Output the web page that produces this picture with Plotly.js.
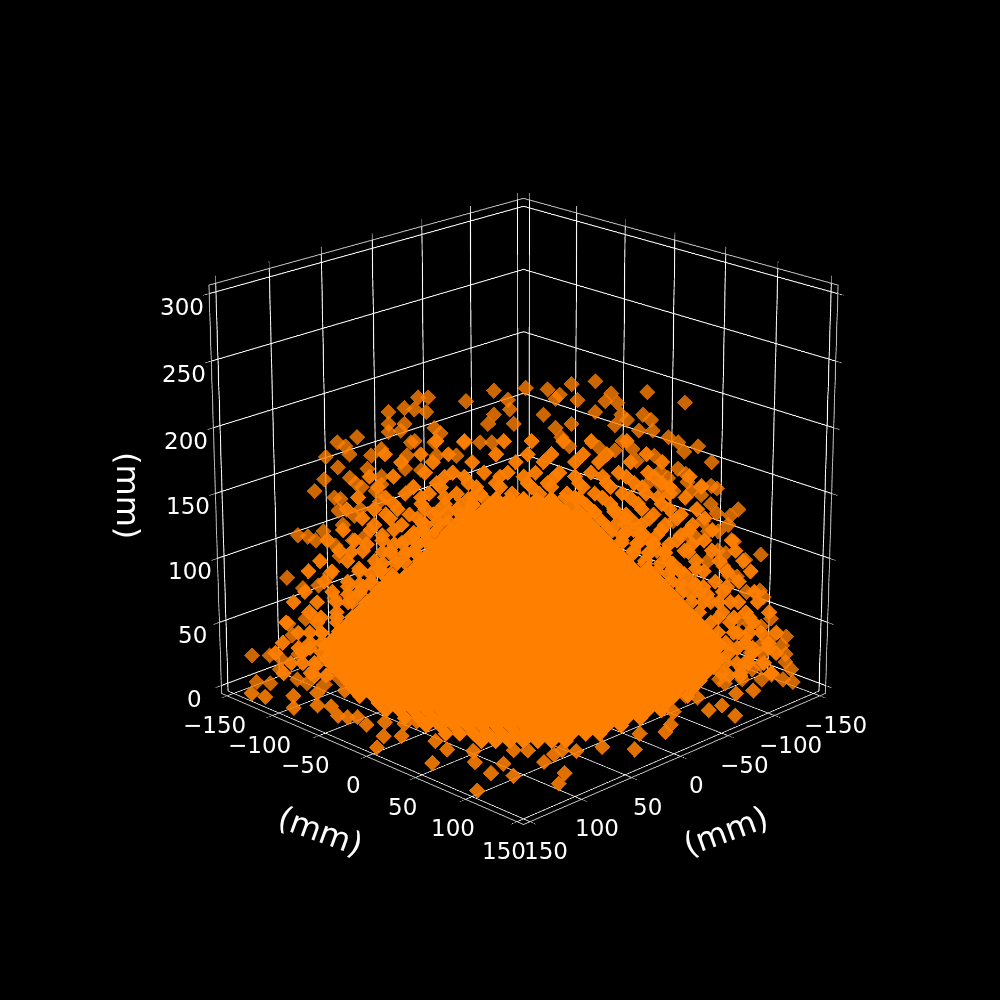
<!DOCTYPE html>
<html><head><meta charset="utf-8"><script src="https://cdn.plot.ly/plotly-3.0.1.min.js"></script>
<style>html,body{margin:0;background:#000;overflow:hidden;width:1000px;height:1000px}
#c{position:absolute;left:-1011.5px;top:-1041.5px;width:3069px;height:3069px}</style></head><body><div id="c"></div>
<script>
const outerY=[-15,-29,-48,-53,-49,-60,-55,-68,-68,-60,-68,-62,-84,-94,-90,-88,-100,-77,-72,-94,-79,-101,-106,-88,-85,-82,-72,-72,-75,-96,-93,-73,-94,-83,-86,-92,-115,-110,-106,-102,-96,-87,-81,-121,-113,-105,-99,-94,-97,-57,-55,-59,-45,-44,-45,-42,-60,-52,-30,-22,-18,-15,-8,-7,-5,-34,-16,
1,12,24,36,18,16,27,44,62,81,47,41,49,36,24,16,10,52,60,64,46,58,65,73,78,88,81,95,66,57,50,55,46,38,23,19,69,78,82,83,85,90,95,98,90,95,98,109,105,104,91,99,107,94,88,113,121,103,99,102,109,105,94,121,123,114,76,73,76,83,70,63,
-121,-119,-140,-131,-138,-131,-112,-108,-116,-125,-117,-112,-126,-103,-95,
127,135,133,135,135,138,139,134,128,123,126,122,117,123,122,118,113,104,101,116,122,111,114];
const outerX=[15,29,48,53,49,60,55,68,68,60,68,62,84,94,90,88,100,77,72,94,79,101,106,88,85,82,72,72,75,96,93,73,94,83,86,92,115,110,106,102,96,87,81,121,113,105,99,94,97,57,55,59,45,44,45,42,60,52,30,22,18,15,8,7,5,34,16,
-1,-12,-24,-36,-18,-16,-27,-44,-62,-81,-47,-41,-49,-36,-24,-16,-10,-52,-60,-64,-46,-58,-65,-73,-78,-88,-81,-95,-66,-57,-50,-55,-46,-38,-23,-19,-69,-78,-82,-83,-85,-90,-95,-98,-90,-95,-98,-109,-105,-104,-91,-99,-107,-94,-88,-113,-121,-103,-99,-102,-109,-105,-94,-121,-123,-114,-76,-73,-76,-83,-70,-63,
121,119,140,131,138,131,112,108,116,125,117,112,126,103,95,
-127,-135,-133,-135,-135,-138,-139,-134,-128,-123,-126,-122,-117,-123,-122,-118,-113,-104,-101,-116,-122,-111,-114];
const outerZ=[228,220,223,223,212,215,214,212,203,203,197,198,193,189,186,180,178,179,184,170,169,161,152,162,158,155,163,157,152,147,146,144,137,138,133,126,118,117,114,121,110,114,117,85,77,79,88,102,69,189,190,179,189,179,200,196,169,168,189,189,203,210,221,214,203,179,189,
230,229,233,235,225,222,221,226,227,219,219,220,210,212,203,200,210,206,210,206,202,198,198,193,189,186,182,174,179,175,190,184,183,185,186,193,167,169,165,159,152,156,156,154,149,142,135,138,133,126,129,121,113,121,116,99,103,104,106,94,86,87,98,75,70,74,152,162,129,119,156,158,
49,40,24,24,3,2,53,55,25,21,5,2,13,1,5,
53,39,32,25,19,13,3,5,9,5,36,32,26,26,17,13,5,2,5,49,47,53,38];
const frontX=[150,150,136,150,120,135,129,137,134,129,133,121,113,138,129,150,145,123,150,128,120,111,111,90,122,118,104,103,-107,-94,-71,-58,-64,-69,-38,-49,-20,-8,-65,7,29,42,60,66,75,89,83,92,107];
const frontY=[-130,-115,-100,-84,-92,-75,-67,-51,-44,-39,-25,-19,-7,-2,7,4,55,75,105,96,110,61,91,80,46,30,-4,-81,129,124,131,130,150,109,114,97,128,134,101,123,139,120,112,104,105,109,87,132,141];
const frontZ=[0,2,3,3,3,3,3,3,3,3,3,3,3,3,3,0,3,3,0,3,3,3,3,3,3,3,3,3,3,3,3,3,3,3,3,3,3,3,3,3,3,3,3,3,3,3,3,3,3];
const midY=[-50,-36,-20,-8,6,18,34,48,63,-44,-28,-14,2,12,28,42,56,70,-60,-48,-34,-22,-6,8,22,36,50,62,74,-66,-52,-40,-26,-12,0,14,30,44,58,70,-70,-58,-46,-32,32,52,66,80,-76,-62,-50,-40,40,52,60,72,86,-72,-56,-46,50,60,68,80,-80,-66,-54,58,66,74,86,-88,-72,-60,64,72,84,-84,-74,76,88,-90,-82,82,92,104,-96,-88,92,100,110,-104,-96,100,108,116,-110,-104,108,116,-116,-110,110,118,126,-114,-108,110,116,-108,-102,106,112,
-44,-30,-10,4,20,34,52,-70,-52,-38,-14,2,14,30,42,62,-62,-46,-26,-4,10,26,38,54,70,-78,-66,-40,-30,-12,0,16,26,40,52,66,84,-74,-56,-42,-24,-12,4,14,30,44,60,74,90,-84,-70,-52,-40,-26,26,40,54,68,82,-90,-76,-64,-50,-34,34,46,60,74,88,-82,-68,-54,-42,38,52,64,78,92,-92,-78,-66,-52,-44,44,56,70,84,96,-100,-86,-72,-60,-50,50,64,78,92,106,-94,-82,-68,-56,56,68,82,96,108,-104,-90,-76,-64,62,74,88,100,112,-110,-98,-84,-72,68,80,92,104,116,-102,-90,-78,76,86,98,110,-112,-98,-84,80,90,102,118,-118,-106,-90,86,96,106,120,-110,-96,90,102,114,126,-122,-106,-96,96,106,118,-116,-104,100,110,122,130,-124,-110,-104,104,114,126,-128,-114,-104,106,118,130,-120,-106,104,114,124,-124,-110,-100,102,112,128,
-28,-20,20,28,-32,-26,24,32,-44,-38,36,46,-52,-44,-38,40,48,56,-56,-50,-44,44,52,60,-62,-54,-49,50,58,66,-68,-60,-55,56,64,72,-72,-65,-60,62,70,76,-78,-72,-68,66,74,82,-84,-78,74,80,88,-90,-84,80,86,94];
const midX=[50,36,20,8,-6,-18,-34,-48,-63,44,28,14,-2,-12,-28,-42,-56,-70,60,48,34,22,6,-8,-22,-36,-50,-62,-74,66,52,40,26,12,0,-14,-30,-44,-58,-70,70,58,46,32,-32,-52,-66,-80,76,62,50,40,-40,-52,-60,-72,-86,72,56,46,-50,-60,-68,-80,80,66,54,-58,-66,-74,-86,88,72,60,-64,-72,-84,84,74,-76,-88,90,82,-82,-92,-104,96,88,-92,-100,-110,104,96,-100,-108,-116,110,104,-108,-116,116,110,-110,-118,-126,114,108,-110,-116,108,102,-106,-112,
44,30,10,-4,-20,-34,-52,70,52,38,14,-2,-14,-30,-42,-62,62,46,26,4,-10,-26,-38,-54,-70,78,66,40,30,12,0,-16,-26,-40,-52,-66,-84,74,56,42,24,12,-4,-14,-30,-44,-60,-74,-90,84,70,52,40,26,-26,-40,-54,-68,-82,90,76,64,50,34,-34,-46,-60,-74,-88,82,68,54,42,-38,-52,-64,-78,-92,92,78,66,52,44,-44,-56,-70,-84,-96,100,86,72,60,50,-50,-64,-78,-92,-106,94,82,68,56,-56,-68,-82,-96,-108,104,90,76,64,-62,-74,-88,-100,-112,110,98,84,72,-68,-80,-92,-104,-116,102,90,78,-76,-86,-98,-110,112,98,84,-80,-90,-102,-118,118,106,90,-86,-96,-106,-120,110,96,-90,-102,-114,-126,122,106,96,-96,-106,-118,116,104,-100,-110,-122,-130,124,110,104,-104,-114,-126,128,114,104,-106,-118,-130,120,106,-104,-114,-124,124,110,100,-102,-112,-128,
28,20,-20,-28,32,26,-24,-32,44,38,-36,-46,52,44,38,-40,-48,-56,56,50,44,-44,-52,-60,62,54,49,-50,-58,-66,68,60,55,-56,-64,-72,72,65,60,-62,-70,-76,78,72,68,-66,-74,-82,84,78,-74,-80,-88,90,84,-80,-86,-94];
const midRowZ=[166,158,150,142,134,126,118,111,105,92,78,66,54,42,30,18,8,190,180,174,163,155,147,138,131,122,114,106,98,90,82,74,66,58,50,42,34,26,18,10,146,141,136,128,120,112,104,96,88,80,72];
const midRowN=[9,9,11,11,8,9,7,7,6,4,5,5,5,4,5,4,4,7,9,9,12,12,10,10,9,10,10,9,9,9,7,7,7,6,6,6,6,6,5,6,4,4,4,6,6,6,6,6,6,5,5];
const midZ=midRowZ.flatMap((v,i)=>Array(midRowN[i]).fill(v));
const coreY=[-14,-7,0,7,14,
-18,-11,-4,3,10,17,
-28,-21,-14,-7,0,7,14,21,28,
-32,-25,-18,-11,-4,3,10,17,24,31,
-35,-28,-21,-14,-7,0,7,14,21,28,35,
-39,-32,-25,-18,-11,-4,3,10,17,24,31,38,
-42,-35,-28,-21,-14,-7,0,7,14,21,28,35,42,
-46,-39,-32,-25,-18,-11,-4,3,10,17,24,31,38,45,
-49,-42,-35,-28,-21,-14,-7,0,7,14,21,28,35,42,49,
-53,-46,-39,-32,-25,-18,-11,-4,3,10,17,24,31,38,45,52,
-56,-49,-42,-35,-28,-21,-14,-7,0,7,14,21,28,35,42,49,56,63,
-67,-60,-53,-46,-39,-32,-25,-18,-11,-4,3,10,17,24,31,38,45,52,59,66,
-70,-63,-56,-49,-42,-35,-28,-21,-14,-7,0,7,14,21,28,35,42,49,56,63,70,
-74,-67,-60,-53,-46,-39,-32,-25,-18,-11,-4,3,10,17,24,31,38,45,52,59,66,73,
-77,-70,-63,-56,-49,-42,-35,-28,-21,-14,-7,0,7,14,21,28,35,42,49,56,63,70,77,
-81,-74,-67,-60,-53,-46,-39,-32,-25,-18,-11,-4,3,10,17,24,31,38,45,52,59,66,73,80,
-84,-77,-70,-63,-56,-49,-42,-35,-28,-21,-14,-7,0,7,14,21,28,35,42,49,56,63,70,77,84,
-88,-81,-74,-67,-60,-53,-46,-39,-32,-25,-18,-11,-4,3,10,17,24,31,38,45,52,59,66,73,80,87,
-91,-84,-77,-70,-63,-56,-49,-42,-35,-28,-21,-14,-7,0,7,14,21,28,35,42,49,56,63,70,77,84,91,
-95,-88,-81,-74,-67,-60,-53,-46,-39,-32,-25,-18,-11,-4,3,10,17,24,31,38,45,52,59,66,73,80,87,94,
-98,-91,-84,-77,-70,-63,-56,-49,-42,-35,-28,-21,-14,-7,0,7,14,21,28,35,42,49,56,63,70,77,84,91,98,
-102,-95,-88,-81,-74,-67,-60,-53,-46,-39,-32,-25,-18,-11,-4,3,10,17,24,31,38,45,52,59,66,73,80,87,94,101,
-98,-91,-84,-77,-70,-63,-56,-49,-42,-35,-28,-21,-14,-7,0,7,14,21,28,35,42,49,56,63,70,77,84,91,98,
-102,-95,-88,-81,-74,-67,-60,-53,-46,-39,-32,-25,-18,-11,-4,3,10,17,24,31,38,45,52,59,66,73,80,87,94,101,
-98,-91,-84,-77,-70,-63,-56,-49,-42,-35,-28,-21,-14,-7,0,7,14,21,28,35,42,49,56,63,70,77,84,91,98,
-95,-88,-81,-74,-67,-60,-53,-46,-39,-32,-25,-18,-11,-4,3,10,17,24,31,38,45,52,59,66,73,80,87,94,
-91,-84,-77,-70,-63,-56,-49,-42,-35,-28,-21,-14,-7,0,7,14,21,28,35,42,49,56,63,70,77,84,91,
-80,-73,-66,-59,-52,-45,-38,-31,-24,-17,-10,-3,4,11,18,25,32,39,46,53,60,67,74,81,88,95,
-66,-59,-52,-45,-38,-31,-24,-17,-10,-3,4,11,18,25,32,39,46,53,60,67,74,81,88,95,102,
-47,-40,-33,-26,-19,-12,-5,2,9,16,23,30,37,44,51,58,65,72,79,86,93,100,
-34,-27,-20,-13,-6,1,8,15,22,29,36,43,50,57,64,71,78,85,92,99,106,
-14,-7,0,7,14,21,28,35,42,49,56,63,70,77,84,91,98,105,
6,13,20,27,34,41,48,55,62,69,76,83,90,97,104,
26,33,40,47,54,61,68,75,82,89,96,103,
53,60,67,74,81,88,95];
const coreX=[14,7,0,-7,-14,
18,11,4,-3,-10,-17,
28,21,14,7,0,-7,-14,-21,-28,
32,25,18,11,4,-3,-10,-17,-24,-31,
35,28,21,14,7,0,-7,-14,-21,-28,-35,
39,32,25,18,11,4,-3,-10,-17,-24,-31,-38,
42,35,28,21,14,7,0,-7,-14,-21,-28,-35,-42,
46,39,32,25,18,11,4,-3,-10,-17,-24,-31,-38,-45,
49,42,35,28,21,14,7,0,-7,-14,-21,-28,-35,-42,-49,
53,46,39,32,25,18,11,4,-3,-10,-17,-24,-31,-38,-45,-52,
56,49,42,35,28,21,14,7,0,-7,-14,-21,-28,-35,-42,-49,-56,-63,
67,60,53,46,39,32,25,18,11,4,-3,-10,-17,-24,-31,-38,-45,-52,-59,-66,
70,63,56,49,42,35,28,21,14,7,0,-7,-14,-21,-28,-35,-42,-49,-56,-63,-70,
74,67,60,53,46,39,32,25,18,11,4,-3,-10,-17,-24,-31,-38,-45,-52,-59,-66,-73,
77,70,63,56,49,42,35,28,21,14,7,0,-7,-14,-21,-28,-35,-42,-49,-56,-63,-70,-77,
81,74,67,60,53,46,39,32,25,18,11,4,-3,-10,-17,-24,-31,-38,-45,-52,-59,-66,-73,-80,
84,77,70,63,56,49,42,35,28,21,14,7,0,-7,-14,-21,-28,-35,-42,-49,-56,-63,-70,-77,-84,
88,81,74,67,60,53,46,39,32,25,18,11,4,-3,-10,-17,-24,-31,-38,-45,-52,-59,-66,-73,-80,-87,
91,84,77,70,63,56,49,42,35,28,21,14,7,0,-7,-14,-21,-28,-35,-42,-49,-56,-63,-70,-77,-84,-91,
95,88,81,74,67,60,53,46,39,32,25,18,11,4,-3,-10,-17,-24,-31,-38,-45,-52,-59,-66,-73,-80,-87,-94,
98,91,84,77,70,63,56,49,42,35,28,21,14,7,0,-7,-14,-21,-28,-35,-42,-49,-56,-63,-70,-77,-84,-91,-98,
102,95,88,81,74,67,60,53,46,39,32,25,18,11,4,-3,-10,-17,-24,-31,-38,-45,-52,-59,-66,-73,-80,-87,-94,-101,
98,91,84,77,70,63,56,49,42,35,28,21,14,7,0,-7,-14,-21,-28,-35,-42,-49,-56,-63,-70,-77,-84,-91,-98,
102,95,88,81,74,67,60,53,46,39,32,25,18,11,4,-3,-10,-17,-24,-31,-38,-45,-52,-59,-66,-73,-80,-87,-94,-101,
98,91,84,77,70,63,56,49,42,35,28,21,14,7,0,-7,-14,-21,-28,-35,-42,-49,-56,-63,-70,-77,-84,-91,-98,
95,88,81,74,67,60,53,46,39,32,25,18,11,4,-3,-10,-17,-24,-31,-38,-45,-52,-59,-66,-73,-80,-87,-94,
91,84,77,70,63,56,49,42,35,28,21,14,7,0,-7,-14,-21,-28,-35,-42,-49,-56,-63,-70,-77,-84,-91,
96,89,82,75,68,61,54,47,40,33,26,19,12,5,-2,-9,-16,-23,-30,-37,-44,-51,-58,-65,-72,-79,
102,95,88,81,74,67,60,53,46,39,32,25,18,11,4,-3,-10,-17,-24,-31,-38,-45,-52,-59,-66,
101,94,87,80,73,66,59,52,45,38,31,24,17,10,3,-4,-11,-18,-25,-32,-39,-46,
106,99,92,85,78,71,64,57,50,43,36,29,22,15,8,1,-6,-13,-20,-27,-34,
106,99,92,85,78,71,64,57,50,43,36,29,22,15,8,1,-6,-13,
104,97,90,83,76,69,62,55,48,41,34,27,20,13,6,
104,97,90,83,76,69,62,55,48,41,34,27,
95,88,81,74,67,60,53];
const coreRowZ=[146,141,136,130,125,120,114,109,103,98,92,87,81,76,70,65,59,54,48,43,37,32,26,21,15,10,4,3,3,3,3,3,3,3,3];
const coreRowN=[5,6,9,10,11,12,13,14,15,16,18,20,21,22,23,24,25,26,27,28,29,30,29,30,29,28,27,26,25,22,21,18,15,12,7];
const coreZ=coreRowZ.flatMap((v,i)=>Array(coreRowN[i]).fill(v));
const axisTicks=[-150,-100,-50,0,50,100,150];
const zTicks=[0,50,100,150,200,250,300];
const axisLabel='(mm)';
const L=-1011.5,T=-1041.5,H=3069;
const fam='DejaVu Sans';
const ax=(r,tv)=>({title:{text:''},range:r,tickvals:tv,showticklabels:false,color:'#fff',gridcolor:'#fff',gridwidth:2,showbackground:false,showline:true,linecolor:'#bbb',linewidth:2,mirror:'all',ticks:'outside',tickcolor:'#fff',ticklen:6,zeroline:false,showspikes:false});
const lab=v=>(v<0?'\u2212'+(-v):''+v);
const tf={size:23,color:'#fff',family:fam};
const ann=(x,y,z,t,xs,ys)=>({x,y,z,text:t,showarrow:false,xanchor:'center',yanchor:'middle',xshift:xs,yshift:ys,font:tf});
const tickAnn=[...axisTicks.map(v=>ann(v,156.25,-6.25,lab(v),16,-29)),...axisTicks.map(v=>ann(156.25,v,-6.25,lab(v),-13,-29)),...zTicks.map(v=>ann(156.25,-156.25,v,lab(v),-27,-13))];
const labels=[[axisLabel,320,830,20],[axisLabel,725,830,-20],[axisLabel,128,495,90]];
const mk=(x,y,z,o)=>({type:'scatter3d',mode:'markers',x,y,z,hoverinfo:'skip',marker:{symbol:'diamond',size:5,color:'#ff7f00',opacity:o,line:{width:0}}});
Plotly.newPlot('c',[mk(coreX,coreY,coreZ,1),mk(midX,midY,midZ,0.95),mk(outerX,outerY,outerZ,0.8),mk(frontX,frontY,frontZ,0.88)],{
 paper_bgcolor:'#000',width:H,height:H,margin:{l:0,r:0,t:0,b:0},showlegend:false,
 annotations:labels.map(a=>({text:a[0],x:(a[1]-L)/H,y:1-(a[2]-T)/H,xref:'paper',yref:'paper',xanchor:'center',yanchor:'middle',showarrow:false,textangle:a[3],font:{size:32,color:'#fff',family:fam}})),
 scene:{domain:{x:[0,1],y:[0,1]},bgcolor:'#000',aspectmode:'manual',aspectratio:{x:1,y:1,z:1},annotations:tickAnn,
  camera:{eye:{x:5.63,y:5.63,z:2.98},center:{x:0,y:0,z:0},up:{x:0,y:0,z:1}},
  xaxis:ax([-156.25,156.25],axisTicks),yaxis:ax([-156.25,156.25],axisTicks),zaxis:ax([-6.25,306.25],zTicks)}
},{displayModeBar:false});
</script></body></html>
